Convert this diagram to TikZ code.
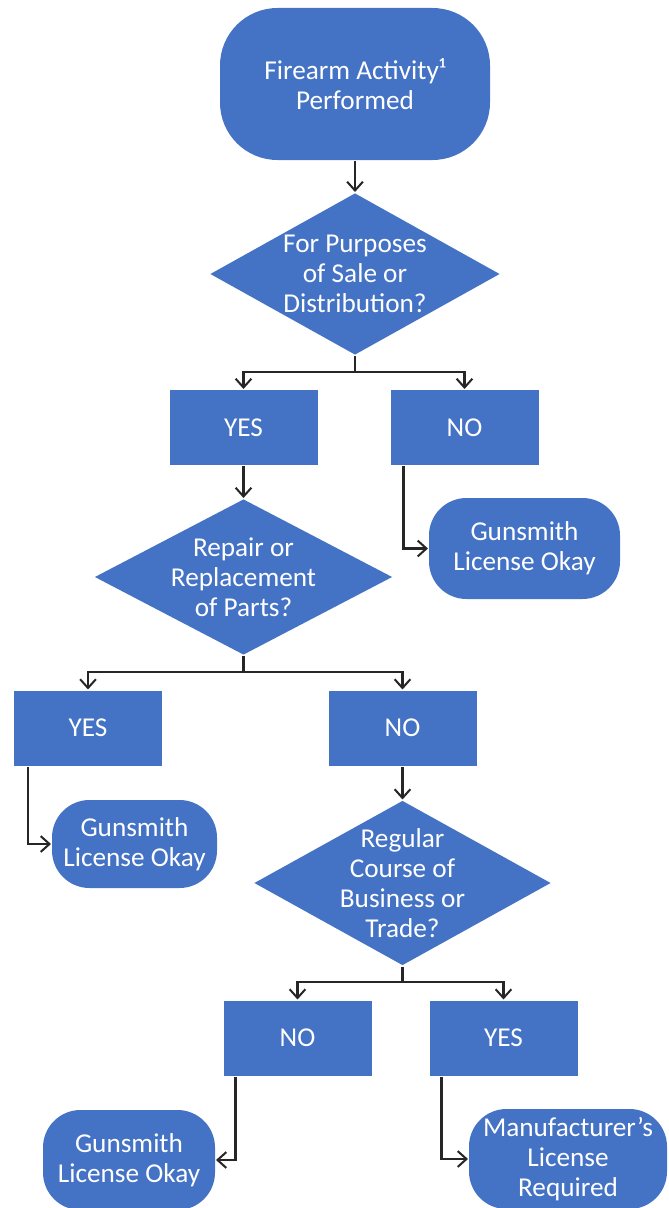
\documentclass[tikz,border=0pt]{standalone}
\usepackage{fontspec}
\setmainfont{Carlito}
\usepackage{xcolor}
\usetikzlibrary{shapes.geometric,arrows.meta}
\definecolor{boxblue}{HTML}{4472C4}

\begin{document}
\begin{tikzpicture}[
            > = {Straight Barb[length=5pt,width=9pt]}, % open arrow head
            color = black!85, % line colour
            line width = 1.15pt, % line style
            every node/.style = {text=white, align=center, inner sep=0pt,
                font=\fontsize{15.5}{17.2}\selectfont},
            terminal/.style = {shape=rectangle, fill=boxblue, rounded corners=0.75cm},
            decision/.style = {shape=diamond, fill=boxblue, inner sep=-0.6cm},
            answer/.style = {shape=rectangle, fill=boxblue, minimum width=2.96cm, minimum height=1.5cm}
        ]
\useasboundingbox (0,0) rectangle (13.36,-24.16);

\node[terminal, minimum width=5.4cm, minimum height=3.04cm, rounded corners=1.15cm] (act) at (7.10,-1.68) {Firearm Activity¹\\Performed};
\node[decision, minimum width=5.8cm, minimum height=3.24cm] (sale) at (7.10,-5.48) {For Purposes\\of Sale or\\Distribution?};
\node[answer] (saleY) at (4.87,-8.55) {YES};
\node[answer] (saleN) at (9.29,-8.55) {NO};
\node[terminal, minimum width=3.82cm, minimum height=2.02cm] (gs1) at (10.49,-10.97) {Gunsmith\\License Okay};

\node[decision, minimum width=5.96cm, minimum height=3.12cm] (repair) at (4.87,-11.54) {Repair or\\Replacement\\of Parts?};
\node[answer] (repY) at (1.76,-14.56) {YES};
\node[answer] (repN) at (8.05,-14.56) {NO};
\node[terminal, minimum width=3.3cm, minimum height=1.76cm] (gs2) at (2.69,-16.88) {Gunsmith\\License Okay};

\node[decision, minimum width=5.94cm, minimum height=3.3cm] (trade) at (8.05,-17.66) {Regular\\Course of\\Business or\\Trade?};
\node[answer] (tradeN) at (5.95,-20.76) {NO};
\node[answer] (tradeY) at (10.07,-20.76) {YES};
\node[terminal, minimum width=3.44cm, minimum height=2.0cm] (gs3) at (2.58,-23.20) {Gunsmith\\License Okay};
\node[terminal, minimum width=3.96cm, minimum height=2.0cm] (mfr) at (11.36,-23.18) {Manufacturer's\\License\\Required};

% branch points
\coordinate (s1) at (7.10,-7.44);
\coordinate (s2) at (4.87,-13.44);
\coordinate (s3) at (8.05,-19.64);

 \path [->] (act) edge (sale);
 \draw (sale) -- (s1);
 \draw [->] (s1) -| (saleY);
 \draw [->] (s1) -| (saleN);
 \draw [->] ([xshift=0.28cm]saleN.south west) |- (gs1);

 \path [->] (saleY) edge (repair);
 \draw (repair) -- (s2);
 \draw [->] (s2) -| (repY);
 \draw [->] (s2) -| (repN);
 \draw [->] ([xshift=0.3cm]repY.south west) |- (gs2);

 \path [->] (repN) edge (trade);
 \draw (trade) -- (s3);
 \draw [->] (s3) -| (tradeN);
 \draw [->] (s3) -| (tradeY);
 \draw [->] ([xshift=0.26cm]tradeN.south west) |- (gs3);
 \draw [->] ([xshift=0.26cm]tradeY.south west) |- (mfr);
\end{tikzpicture}
\end{document}
